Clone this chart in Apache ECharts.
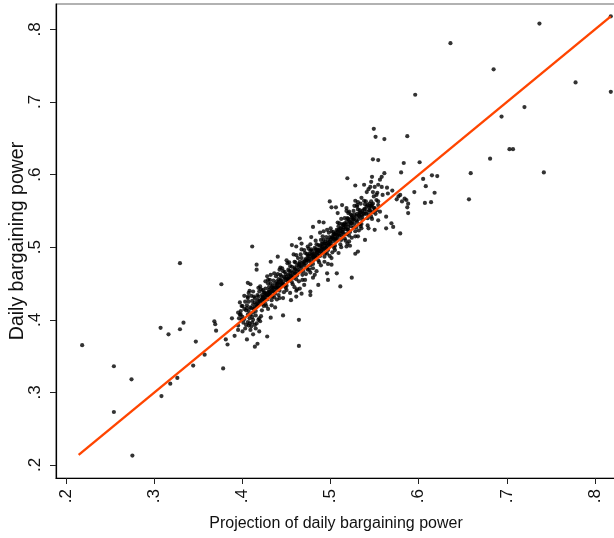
<!DOCTYPE html>
<html>
<head>
<meta charset="utf-8">
<script src="https://cdn.jsdelivr.net/npm/echarts@6/dist/echarts.min.js"></script>
<style>
html,body{margin:0;padding:0;background:#fff;}
#chart{width:614px;height:538px;}
</style>
</head>
<body>
<div id="chart"></div>
<script>
// Tick values and labels
const xTicks = [0.2, 0.3, 0.4, 0.5, 0.6, 0.7, 0.8];
const xTickLabels = ['.2', '.3', '.4', '.5', '.6', '.7', '.8'];
const yTicks = [0.2, 0.3, 0.4, 0.5, 0.6, 0.7, 0.8];
const yTickLabels = ['.2', '.3', '.4', '.5', '.6', '.7', '.8'];

// 45-degree reference line endpoints
const fitLine = [[0.214, 0.214], [0.818, 0.818]];

// Far outliers
const tailPts = [
[0.218,0.365],[0.254,0.336],[0.254,0.273],[0.274,0.318],[0.275,0.213],[0.307,0.389],[0.316,0.380],
[0.308,0.295],[0.318,0.312],[0.326,0.320],[0.329,0.478],[0.329,0.387],[0.333,0.396],[0.347,0.370],
[0.344,0.337],
[0.818,0.818],[0.737,0.808],[0.685,0.745],[0.778,0.727],[0.818,0.714],[0.720,0.693],[0.694,0.680],
[0.703,0.635],[0.707,0.635],[0.681,0.622],[0.659,0.602],[0.742,0.603],[0.657,0.566],[0.636,0.781],
[0.596,0.710]
];

// Sparse points around the main band
const edgePts = [
[0.357,0.352],[0.378,0.333],[0.368,0.398],[0.369,0.394],[0.370,0.385],[0.376,0.449],[0.381,0.373],
[0.383,0.366],[0.388,0.402],[0.391,0.378],[0.395,0.410],[0.398,0.407],[0.399,0.400],[0.397,0.424],
[0.402,0.433],[0.406,0.432],[0.408,0.440],[0.406,0.451],[0.409,0.449],[0.400,0.384],[0.405,0.373],
[0.406,0.397],[0.407,0.392],[0.410,0.391],[0.414,0.393],[0.415,0.388],[0.414,0.363],[0.417,0.367],
[0.428,0.377],[0.432,0.403],[0.446,0.406],[0.464,0.400],[0.464,0.364],
[0.411,0.501],[0.416,0.476],[0.416,0.469],[0.426,0.453],[0.429,0.455],[0.432,0.480],[0.440,0.487],
[0.443,0.472],[0.450,0.482],[0.451,0.478],[0.459,0.472],
[0.455,0.427],[0.461,0.432],[0.467,0.436],[0.461,0.440],[0.465,0.443],[0.470,0.448],[0.477,0.439],
[0.477,0.434],[0.480,0.458],[0.482,0.462],[0.486,0.448],[0.497,0.455],[0.496,0.464],[0.501,0.476],
[0.507,0.464],[0.511,0.446],[0.524,0.458],
[0.456,0.503],[0.461,0.501],[0.465,0.512],[0.467,0.505],[0.474,0.501],[0.477,0.495],[0.478,0.514],
[0.480,0.528],[0.487,0.535],[0.492,0.534],[0.499,0.563],[0.501,0.555],[0.506,0.555],[0.508,0.547],
[0.513,0.558],
[0.521,0.508],[0.518,0.501],[0.528,0.491],[0.531,0.494],[0.539,0.510],[0.543,0.526],[0.550,0.524],
[0.563,0.526],[0.571,0.528],[0.579,0.519],
[0.549,0.663],[0.551,0.652],[0.561,0.649],[0.587,0.653],[0.548,0.621],[0.554,0.620],[0.583,0.616],
[0.601,0.617],[0.519,0.595],[0.547,0.597],[0.546,0.590],[0.556,0.593],[0.561,0.602],[0.558,0.597],
[0.580,0.603],[0.615,0.599],[0.621,0.598],[0.605,0.594],[0.528,0.585],[0.538,0.586],[0.543,0.580],
[0.541,0.576],[0.545,0.583],[0.550,0.583],[0.554,0.586],[0.558,0.583],[0.564,0.582],[0.565,0.574],
[0.559,0.572],[0.552,0.572],[0.548,0.576],[0.570,0.578],[0.608,0.584],[0.618,0.575],[0.595,0.576],
[0.577,0.570],[0.575,0.566],[0.579,0.572],[0.581,0.563],[0.586,0.565],[0.588,0.560],[0.584,0.567],
[0.607,0.561],[0.614,0.562],[0.587,0.555],[0.588,0.547],[0.563,0.542],[0.569,0.533],[0.554,0.537],
[0.547,0.558],[0.554,0.558],[0.550,0.551],[0.556,0.549],[0.545,0.550],[0.528,0.564],[0.531,0.562],
[0.534,0.560],[0.530,0.558],[0.535,0.568],[0.518,0.554],[0.520,0.547],[0.524,0.544],[0.516,0.540]
];

// Dense core of the band
const corePts = [
[0.396,0.402],[0.398,0.412],[0.395,0.392],[0.399,0.419],[0.397,0.407],[0.395,0.386],
[0.402,0.415],[0.400,0.404],[0.404,0.413],[0.401,0.396],[0.403,0.425],[0.402,0.401],[0.400,0.419],[0.404,0.393],
[0.405,0.416],[0.406,0.407],[0.407,0.425],[0.408,0.402],[0.409,0.417],[0.406,0.430],[0.408,0.395],[0.407,0.412],[0.405,0.420],[0.409,0.407],[0.407,0.437],
[0.414,0.424],[0.412,0.410],[0.411,0.426],[0.413,0.415],[0.410,0.433],[0.412,0.400],[0.414,0.430],[0.410,0.416],[0.413,0.432],[0.411,0.404],[0.412,0.439],
[0.416,0.422],[0.418,0.432],[0.415,0.412],[0.419,0.439],[0.417,0.427],[0.415,0.406],[0.418,0.444],[0.416,0.418],[0.419,0.402],[0.417,0.434],[0.418,0.422],
[0.420,0.425],[0.422,0.434],[0.423,0.422],[0.421,0.442],[0.424,0.419],[0.423,0.432],[0.420,0.446],[0.422,0.413],[0.424,0.438],[0.421,0.405],[0.423,0.441],[0.422,0.429],[0.424,0.427],
[0.428,0.428],[0.426,0.443],[0.429,0.434],[0.425,0.437],[0.427,0.419],[0.429,0.450],[0.426,0.422],[0.428,0.460],[0.425,0.428],[0.427,0.435],[0.429,0.415],[0.426,0.436],[0.428,0.434],
[0.430,0.441],[0.431,0.432],[0.432,0.450],[0.433,0.427],[0.434,0.442],[0.431,0.455],[0.433,0.420],[0.432,0.437],[0.430,0.445],[0.434,0.432],[0.432,0.462],[0.431,0.439],[0.433,0.445],
[0.437,0.450],[0.435,0.439],[0.439,0.448],[0.436,0.431],[0.438,0.460],[0.437,0.436],[0.435,0.454],[0.439,0.428],[0.436,0.464],[0.438,0.444],[0.437,0.417],[0.439,0.453],[0.435,0.444],
[0.444,0.454],[0.442,0.440],[0.441,0.456],[0.443,0.445],[0.440,0.463],[0.442,0.430],[0.444,0.460],[0.440,0.446],[0.443,0.462],[0.441,0.434],[0.442,0.469],[0.443,0.450],[0.441,0.452],
[0.445,0.450],[0.447,0.459],[0.448,0.447],[0.446,0.467],[0.449,0.444],[0.448,0.457],[0.445,0.471],[0.447,0.438],[0.449,0.463],[0.446,0.430],[0.448,0.466],
[0.451,0.457],[0.453,0.467],[0.450,0.447],[0.454,0.474],[0.452,0.462],[0.450,0.441],[0.453,0.479],[0.451,0.453],[0.454,0.437],[0.452,0.469],[0.453,0.457],
[0.458,0.458],[0.456,0.473],[0.459,0.464],[0.455,0.467],[0.457,0.449],[0.459,0.480],[0.456,0.452],[0.458,0.490],[0.455,0.458],[0.457,0.465],[0.459,0.445],
[0.462,0.475],[0.460,0.464],[0.464,0.473],[0.461,0.456],[0.463,0.485],[0.462,0.461],[0.460,0.479],[0.464,0.453],[0.461,0.489],[0.463,0.469],[0.462,0.442],
[0.465,0.476],[0.466,0.467],[0.467,0.485],[0.468,0.462],[0.469,0.477],[0.466,0.490],[0.468,0.455],[0.467,0.472],[0.465,0.480],[0.469,0.467],[0.467,0.497],
[0.470,0.475],[0.472,0.484],[0.473,0.472],[0.471,0.492],[0.474,0.469],[0.473,0.482],[0.470,0.496],[0.472,0.463],[0.474,0.488],[0.471,0.455],[0.473,0.491],[0.471,0.482],
[0.479,0.489],[0.477,0.475],[0.476,0.491],[0.478,0.480],[0.475,0.498],[0.477,0.465],[0.479,0.495],[0.475,0.481],[0.478,0.497],[0.476,0.469],[0.477,0.504],[0.478,0.485],[0.475,0.488],
[0.481,0.487],[0.483,0.497],[0.480,0.477],[0.484,0.504],[0.482,0.492],[0.480,0.471],[0.483,0.509],[0.481,0.483],[0.484,0.467],[0.482,0.499],[0.483,0.487],[0.480,0.491],[0.484,0.492],
[0.488,0.488],[0.486,0.503],[0.489,0.494],[0.485,0.497],[0.487,0.479],[0.489,0.510],[0.486,0.482],[0.488,0.520],[0.485,0.488],[0.487,0.495],[0.489,0.475],[0.486,0.496],[0.488,0.502],
[0.490,0.501],[0.491,0.492],[0.492,0.510],[0.493,0.487],[0.494,0.502],[0.491,0.515],[0.493,0.480],[0.492,0.497],[0.490,0.505],[0.494,0.492],[0.492,0.522],[0.491,0.500],[0.493,0.505],
[0.497,0.510],[0.495,0.499],[0.499,0.508],[0.496,0.491],[0.498,0.520],[0.497,0.496],[0.495,0.514],[0.499,0.488],[0.496,0.524],[0.498,0.504],[0.497,0.477],[0.499,0.514],[0.495,0.505],
[0.500,0.505],[0.502,0.514],[0.503,0.502],[0.501,0.522],[0.504,0.499],[0.503,0.512],[0.500,0.526],[0.502,0.493],[0.504,0.518],[0.501,0.485],[0.503,0.521],[0.501,0.513],[0.504,0.511],
[0.506,0.512],[0.508,0.522],[0.505,0.502],[0.509,0.529],[0.507,0.517],[0.505,0.496],[0.508,0.534],[0.506,0.508],[0.509,0.492],[0.507,0.524],[0.508,0.512],[0.505,0.518],[0.509,0.518],
[0.514,0.524],[0.512,0.510],[0.511,0.526],[0.513,0.515],[0.510,0.533],[0.512,0.500],[0.514,0.530],[0.510,0.516],[0.513,0.532],[0.511,0.504],[0.512,0.539],[0.513,0.521],[0.511,0.522],
[0.518,0.518],[0.516,0.533],[0.519,0.524],[0.515,0.527],[0.517,0.509],[0.519,0.540],[0.516,0.512],[0.518,0.550],[0.515,0.518],[0.517,0.525],[0.519,0.505],[0.517,0.531],
[0.522,0.535],[0.520,0.524],[0.524,0.533],[0.521,0.516],[0.523,0.545],[0.522,0.521],[0.520,0.539],[0.524,0.513],[0.521,0.549],[0.523,0.529],[0.522,0.502],[0.520,0.532],
[0.525,0.536],[0.526,0.527],[0.527,0.545],[0.528,0.522],[0.529,0.537],[0.526,0.550],[0.528,0.515],[0.527,0.532],[0.525,0.540],[0.529,0.527],[0.527,0.557],
[0.530,0.535],[0.532,0.544],[0.533,0.532],[0.531,0.552],[0.534,0.529],[0.533,0.542],[0.530,0.556],[0.532,0.523],[0.534,0.548],[0.531,0.515],[0.533,0.551],
[0.536,0.542],[0.538,0.552],[0.535,0.532],[0.539,0.559],[0.537,0.547],[0.535,0.526],[0.538,0.564],[0.536,0.538],
[0.544,0.554],[0.542,0.540],[0.541,0.556],[0.543,0.545],[0.540,0.563],[0.542,0.530],[0.544,0.560],[0.540,0.546],
[0.548,0.548],[0.546,0.563],[0.549,0.554],[0.545,0.557],[0.547,0.539],[0.549,0.570],[0.546,0.542],
[0.552,0.565],[0.550,0.554],[0.554,0.563],[0.551,0.546],[0.553,0.575],[0.552,0.551]
];

// Extra points filling the darkest middle of the band
const denseFill = [
[0.412,0.421],[0.414,0.417],[0.417,0.420],[0.419,0.426],[0.421,0.427],[0.423,0.430],[0.425,0.432],
[0.426,0.431],[0.428,0.437],[0.430,0.438],[0.431,0.436],[0.433,0.440],[0.434,0.447],[0.436,0.439],
[0.437,0.445],[0.439,0.442],[0.440,0.450],[0.441,0.444],[0.443,0.455],[0.444,0.448],[0.446,0.452],
[0.447,0.449],[0.449,0.455],[0.450,0.459],[0.452,0.456],[0.454,0.462],[0.455,0.461],[0.457,0.460],
[0.459,0.469],[0.460,0.470],[0.462,0.467],[0.464,0.477],[0.466,0.474],[0.468,0.479],[0.470,0.480],
[0.472,0.478],[0.474,0.483],[0.476,0.484],[0.478,0.490],[0.480,0.486],[0.482,0.488],[0.484,0.496],
[0.485,0.493],[0.487,0.491],[0.488,0.497],[0.490,0.497],[0.491,0.505],[0.493,0.498],[0.494,0.508],
[0.496,0.501],[0.497,0.506],[0.499,0.503],[0.500,0.510],[0.502,0.508],[0.503,0.517],[0.505,0.513],
[0.506,0.520],[0.508,0.516],[0.509,0.524],[0.511,0.519],[0.512,0.526],[0.514,0.521],[0.515,0.531],
[0.517,0.528],[0.518,0.535],[0.520,0.528],[0.521,0.537],[0.523,0.533],[0.524,0.541],[0.526,0.538],
[0.527,0.540],[0.529,0.543],[0.530,0.546],[0.532,0.539],[0.533,0.547],[0.535,0.544],[0.536,0.550],
[0.538,0.546],[0.539,0.553],[0.541,0.549],[0.542,0.558],[0.544,0.551],[0.546,0.556],[0.548,0.560],
[0.403,0.388],[0.409,0.386],[0.411,0.396],[0.416,0.395],[0.418,0.400],[0.420,0.398],[0.412,0.380],
[0.419,0.384]
];

const chart = echarts.init(document.getElementById('chart'), null, {renderer: 'canvas'});

function tickFmt(ticks, labels) {
  return function (v) {
    for (let i = 0; i < ticks.length; i++) {
      if (Math.abs(ticks[i] - v) < 1e-6) return labels[i];
    }
    return '';
  };
}

const FONT = 'Liberation Sans, Arial, Helvetica, sans-serif';
const DOT = 4.2;

function dots(data) {
  return {type: 'scatter', data: data, symbol: 'circle', symbolSize: DOT,
          itemStyle: {color: '#000'}, z: 2, silent: true};
}

chart.setOption({
  animation: false,
  backgroundColor: '#ffffff',
  grid: {
    left: 56, right: -2, top: 4, bottom: 60,
    containLabel: false, outerBoundsMode: 'none',
    show: true, borderColor: '#666666', borderWidth: 1.2, backgroundColor: 'transparent'
  },
  xAxis: {
    type: 'value',
    min: 0.1883, max: 0.8239,
    name: 'Projection of daily bargaining power',
    nameLocation: 'middle', nameGap: 38, nameMoveOverlap: false,
    nameTextStyle: {fontFamily: FONT, fontSize: 16, color: '#111'},
    axisLine: {show: true, onZero: false, lineStyle: {color: '#000', width: 1.2}},
    axisTick: {show: true, length: 6, customValues: xTicks, lineStyle: {color: '#222', width: 1}},
    axisLabel: {
      customValues: xTicks, rotate: 90, margin: 11,
      fontFamily: FONT, fontSize: 17, color: '#111',
      formatter: tickFmt(xTicks, xTickLabels)
    },
    splitLine: {show: false}
  },
  yAxis: {
    type: 'value',
    min: 0.1821, max: 0.835,
    name: 'Daily bargaining power',
    nameLocation: 'middle', nameGap: 28, nameRotate: 90, nameMoveOverlap: false,
    nameTextStyle: {fontFamily: FONT, fontSize: 19.5, color: '#111'},
    axisLine: {show: true, onZero: false, lineStyle: {color: '#000', width: 1.2}},
    axisTick: {show: true, length: 6, customValues: yTicks, lineStyle: {color: '#222', width: 1}},
    axisLabel: {
      customValues: yTicks, rotate: 90, margin: 12,
      fontFamily: FONT, fontSize: 17, color: '#111',
      formatter: tickFmt(yTicks, yTickLabels)
    },
    splitLine: {show: false}
  },
  series: [
    dots(tailPts),
    dots(edgePts),
    dots(corePts),
    dots(denseFill),
    {type: 'line', data: fitLine, showSymbol: false, symbol: 'none', silent: true,
     lineStyle: {color: '#ff4500', width: 2.4}, z: 5}
  ]
});
</script>
</body>
</html>
